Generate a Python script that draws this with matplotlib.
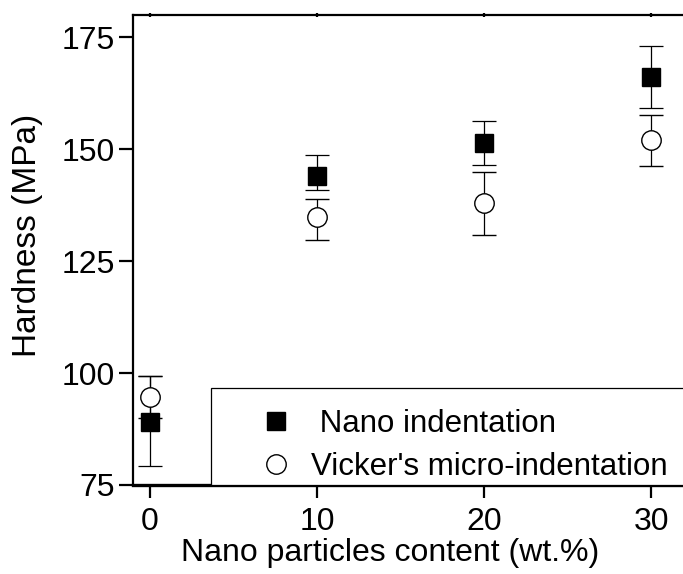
import matplotlib
matplotlib.use("Agg")
import matplotlib.pyplot as plt
from matplotlib.lines import Line2D
from matplotlib.patches import Rectangle

# nanoparticle content (wt.%)
content = [0, 10, 20, 30]

# nano indentation hardness (MPa) with lower / upper error
nano_hardness = [89.1, 144.0, 151.5, 166.2]
nano_err_low = [9.9, 3.2, 4.9, 6.9]
nano_err_high = [10.3, 4.8, 4.8, 6.9]

# Vicker's micro-indentation hardness (MPa) with lower / upper error
vick_hardness = [94.7, 134.8, 137.9, 152.0]
vick_err_low = [4.7, 5.1, 7.1, 5.8]
vick_err_high = [4.7, 4.2, 7.0, 5.6]

y_ticks = [75, 100, 125, 150, 175]
x_ticks = [0, 10, 20, 30]

plt.rcParams['font.family'] = ['Liberation Sans', 'DejaVu Sans']
fs = 23

fig = plt.figure(figsize=(6.83, 5.74), dpi=100)
ax = fig.add_axes([133 / 683, 89 / 574, 1 - 133 / 683, 470 / 574])

ax.errorbar(content, nano_hardness, yerr=[nano_err_low, nano_err_high],
            fmt='s', ms=13, mfc='black', mec='black', ecolor='black',
            elinewidth=0.9, capsize=8.5, capthick=0.9, zorder=3)
ax.errorbar(content, vick_hardness, yerr=[vick_err_low, vick_err_high],
            fmt='o', ms=14, mfc='white', mec='black', mew=1.0, ecolor='black',
            elinewidth=0.9, capsize=8.5, capthick=0.9, zorder=3)

ax.set_xlim(-1, 31.9)
ax.set_ylim(75, 180)
ax.set_xticks(x_ticks)
ax.set_yticks(y_ticks)

ax.spines['right'].set_visible(False)
ax.spines['left'].set_linewidth(1.6)
ax.spines['top'].set_linewidth(1.6)
ax.spines['bottom'].set_linewidth(2.4)

ax.tick_params(axis='y', direction='out', length=10, width=1.6, labelsize=fs, pad=3)
ax.tick_params(axis='x', direction='out', length=9, width=1.6, labelsize=fs, pad=6.5)
ax.tick_params(axis='x', which='major', top=True, labeltop=False)
for t in ax.xaxis.get_major_ticks():
    t.tick2line.set_marker('|')
    t.tick2line.set_markersize(3)

ax.set_xlabel("Nano particles content (wt.%)", fontsize=fs)
ax.set_ylabel("Hardness (MPa)", fontsize=24)
ax.xaxis.set_label_coords(0.468, -0.112)
ax.yaxis.set_label_coords(-0.163, 0.532)

# legend box running off the right edge
ax.add_patch(Rectangle((0.142, 0.0), 1.0, 0.206, transform=ax.transAxes,
                       facecolor='white', edgecolor='black', lw=0.9,
                       clip_on=False, zorder=4))
handles = [
    Line2D([], [], ls='none', marker='s', ms=13, mfc='black', mec='black'),
    Line2D([], [], ls='none', marker='o', ms=14, mfc='white', mec='black'),
]
leg = ax.legend(handles, [" Nano indentation", "Vicker's micro-indentation"],
                loc='center left', bbox_to_anchor=(0.238, 0.084),
                frameon=False, fontsize=22.5, handlelength=0.8,
                handletextpad=0.7, labelspacing=0.4, borderpad=0,
                borderaxespad=0)
leg.set_zorder(5)

fig.savefig("out.png", dpi=100)
